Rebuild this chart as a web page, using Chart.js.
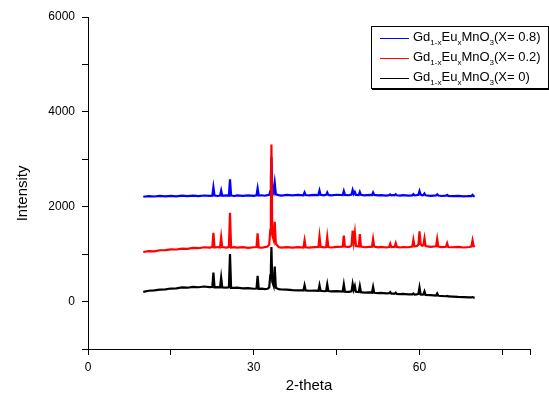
<!DOCTYPE html>
<html>
<head>
<meta charset="utf-8">
<script src="https://cdn.jsdelivr.net/npm/chart.js@4.4.1/dist/chart.umd.min.js"></script>
<style>
    body { margin: 0; background: #fff; }
    #wrap { position: relative; width: 549px; height: 396px; }
    #legend {
        position: absolute; left: 371px; top: 26px; width: 176px; height: 61px;
        border: 1px solid #000; box-shadow: 1px 1px 0 #000; background: #fff;
        font-family: "Liberation Sans", Arial, sans-serif; font-size: 13px; color: #000;
    }
    #legend .row { position: absolute; left: 0; height: 20px; line-height: 20px; white-space: nowrap; }
    #legend .swatch { position: absolute; left: 8px; top: 10px; width: 29px; height: 0; }
    #legend .txt { position: absolute; left: 41px; top: -1px; }
    #legend sub { font-size: 8px; vertical-align: -4px; line-height: 0; }
</style>
</head>
<body>
<div id="wrap">
    <canvas id="xrdChart" width="549" height="396"></canvas>
    <div id="legend"></div>
</div>
<script>
/* --- datos --- */
const twoTheta = [
    10, 11, 12, 13, 14, 15, 16, 17, 18, 19, 20, 21, 22,
    22.5, 22.7, 22.9, 23.5,
    23.9, 24.1, 24.3, 25.0,
    25.5, 25.7, 25.9, 26.5,
    27, 28, 29, 30,
    30.5, 30.7, 30.9, 31.5, 32, 32.5,
    32.8, 33.0, 33.1, 33.2, 33.35,
    33.6, 33.8, 34.0, 34.5,
    35, 36, 37, 38,
    39.0, 39.2, 39.4, 40, 41,
    41.7, 41.9, 42.1, 42.7,
    43.1, 43.3, 43.5, 44, 45,
    46.1, 46.3, 46.5, 47.2,
    47.7, 47.9, 48.1, 48.3, 48.5,
    49.0, 49.2, 49.4, 50, 51,
    51.4, 51.6, 51.8, 52.5, 53, 54,
    54.5, 54.7, 54.9, 55.3,
    55.5, 55.7, 55.9, 56.5, 57, 58,
    58.7, 58.9, 59.1, 59.5,
    59.8, 60.0, 60.2, 60.5,
    60.7, 60.9, 61.1, 62,
    63.0, 63.2, 63.4, 64,
    64.8, 65.0, 65.2, 66, 67, 68, 69,
    69.4, 69.6, 69.8, 70
];

const intensityX08 = [
    2210, 2225, 2215, 2228, 2218, 2230, 2220, 2232, 2222, 2235, 2224, 2236, 2228,
    2232, 2410, 2235, 2226,
    2234, 2340, 2230, 2238,
    2232, 2580, 2236, 2226,
    2238, 2228, 2240, 2230,
    2240, 2390, 2235, 2242, 2232, 2245,
    2250, 2330, 2600, 3050, 2380,
    2300, 2500, 2260, 2245,
    2236, 2248, 2238, 2250,
    2242, 2300, 2245, 2238, 2250,
    2245, 2340, 2250, 2240,
    2250, 2300, 2248, 2240, 2252,
    2246, 2330, 2250, 2242,
    2255, 2350, 2270, 2310, 2250,
    2245, 2310, 2250, 2240, 2250,
    2245, 2300, 2248, 2238, 2246, 2236,
    2244, 2260, 2238, 2246,
    2240, 2262, 2242, 2234, 2244, 2232,
    2240, 2265, 2238, 2244,
    2250, 2330, 2255, 2240,
    2245, 2280, 2242, 2230,
    2238, 2262, 2235, 2226,
    2232, 2250, 2228, 2222, 2230, 2218, 2226,
    2225, 2250, 2222, 2215
];

const intensityX02 = [
    1045, 1065, 1060, 1082, 1085, 1100, 1098, 1118, 1112, 1132, 1125, 1145, 1138,
    1148, 1450, 1140, 1150,
    1142, 1355, 1148, 1138,
    1150, 1870, 1140, 1148,
    1136, 1146, 1134, 1145,
    1150, 1440, 1142, 1135, 1148, 1160,
    1200, 1520, 1900, 3310, 1400,
    1300, 1680, 1220, 1150,
    1138, 1148, 1136, 1146,
    1140, 1290, 1145, 1136, 1148,
    1150, 1375, 1155, 1142,
    1150, 1360, 1148, 1140, 1152,
    1155, 1390, 1160, 1150,
    1180, 1495, 1260, 1450, 1170,
    1160, 1425, 1158, 1145, 1152,
    1155, 1320, 1160, 1145, 1152, 1140,
    1150, 1220, 1148, 1155,
    1150, 1230, 1152, 1140, 1150, 1145,
    1160, 1300, 1165, 1170,
    1200, 1480, 1210, 1175,
    1190, 1335, 1170, 1155,
    1165, 1320, 1160, 1150,
    1155, 1230, 1150, 1145, 1152, 1140, 1150,
    1160, 1290, 1170, 1150
];

const intensityX0 = [
    205, 228, 235, 252, 258, 275, 280, 298, 292, 310, 302, 318, 305,
    310, 610, 300, 305,
    300, 505, 298, 295,
    300, 1000, 290, 288,
    292, 280, 284, 270,
    275, 540, 268, 272, 262, 270,
    300, 560, 700, 1150, 420,
    330, 740, 290, 262,
    255, 250, 242, 238,
    238, 345, 235, 228, 232,
    225, 345, 228, 218,
    224, 365, 222, 215, 220,
    212, 365, 210, 205,
    215, 373, 250, 330, 205,
    200, 330, 198, 190, 195,
    188, 310, 185, 180, 184, 172,
    175, 200, 168, 170,
    166, 190, 162, 158, 162, 150,
    150, 170, 146, 150,
    160, 300, 150, 145,
    150, 215, 140, 135,
    128, 170, 122, 118,
    112, 120, 108, 104, 98, 95, 90,
    88, 95, 84, 82
];

const seriesLabels = ['Gd1-xEuxMnO3(X= 0.8)', 'Gd1-xEuxMnO3(X= 0.2)', 'Gd1-xEuxMnO3(X= 0)'];
const xLabelTicks = [0, 30, 60];
const yLabelTicks = [0, 2000, 4000, 6000];

const FONT = '"Liberation Sans", Arial, sans-serif';

function toPoints(values) {
    return values.map((v, i) => ({ x: twoTheta[i], y: v }));
}

// --- Grafico ---
const chart = new Chart(document.getElementById('xrdChart'), {
    type: 'line',
    data: {
        datasets: [
            { label: seriesLabels[0], data: toPoints(intensityX08), borderColor: '#0000ff', order: 1 },
            { label: seriesLabels[1], data: toPoints(intensityX02), borderColor: '#ff0000', order: 0 },
            { label: seriesLabels[2], data: toPoints(intensityX0), borderColor: '#000000', order: 2 }
        ]
    },
    options: {
        responsive: false,
        animation: false,
        layout: { padding: { top: 17, right: 19, left: 0, bottom: 0 } },
        elements: {
            point: { radius: 0 },
            line: { borderWidth: 2.2, tension: 0, borderJoinStyle: 'miter' }
        },
        plugins: {
            legend: { display: false },
            tooltip: { enabled: false }
        },
        scales: {
            x: {
                type: 'linear',
                min: 0,
                max: 80,
                afterFit: scale => { scale.height = 47; },
                border: { color: '#000', width: 1 },
                grid: { drawOnChartArea: false, tickLength: 6, color: '#000' },
                ticks: {
                    stepSize: 15,
                    autoSkip: false,
                    maxRotation: 0,
                    padding: 5,
                    color: '#000',
                    font: { family: FONT, size: 12 },
                    callback: v => xLabelTicks.includes(v) ? String(v) : ''
                },
                title: {
                    display: true,
                    text: '2-theta',
                    color: '#000',
                    font: { family: FONT, size: 15 },
                    padding: { top: 0, bottom: 1 }
                }
            },
            y: {
                min: -1000,
                max: 6000,
                afterFit: scale => { scale.width = 88; },
                border: { color: '#000', width: 1 },
                grid: { drawOnChartArea: false, tickLength: 6, color: '#000' },
                ticks: {
                    stepSize: 1000,
                    padding: 7,
                    color: '#000',
                    font: { family: FONT, size: 12 },
                    callback: v => yLabelTicks.includes(v) ? String(v) : ''
                },
                title: {
                    display: true,
                    text: 'Intensity     ',
                    color: '#000',
                    font: { family: FONT, size: 15 },
                    padding: { top: 14, bottom: 0 }
                }
            }
        }
    }
});

// --- Leyenda con subindices ---
function formulaHtml(label) {
    return label
        .replace('Gd1-x', 'Gd<sub>1-x</sub>')
        .replace('Eux', 'Eu<sub>x</sub>')
        .replace('MnO3', 'MnO<sub>3</sub>');
}

const legend = document.getElementById('legend');
chart.data.datasets.forEach((ds, i) => {
    const row = document.createElement('div');
    row.className = 'row';
    row.style.top = (1 + i * 20) + 'px';
    row.style.width = '176px';
    row.innerHTML = `<span class="swatch" style="border-top: 1.5px solid ${ds.borderColor}"></span>` +
        `<span class="txt">${formulaHtml(ds.label)}</span>`;
    legend.appendChild(row);
});
</script>
</body>
</html>
